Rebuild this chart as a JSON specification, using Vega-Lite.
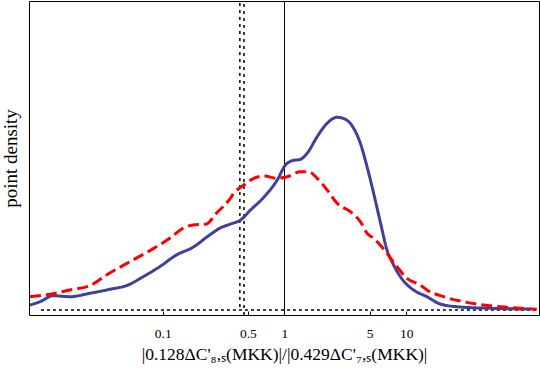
{
  "$schema": "https://vega.github.io/schema/vega-lite/v6.json",
  "autosize": "none",
  "padding": {"left": 29, "right": 1, "top": 1, "bottom": 54},
  "width": 510,
  "height": 314,
  "background": "white",
  "config": {
    "view": {"stroke": "black", "strokeWidth": 1},
    "font": "Liberation Serif"
  },
  "datasets": {
    "curves": [
      {"series": "blue", "x": 0.00813, "y": 5},
      {"series": "blue", "x": 0.00982, "y": 8.3},
      {"series": "blue", "x": 0.01262, "y": 14.3},
      {"series": "blue", "x": 0.01729, "y": 13.3},
      {"series": "blue", "x": 0.02522, "y": 16.7},
      {"series": "blue", "x": 0.0368, "y": 20.7},
      {"series": "blue", "x": 0.052, "y": 25},
      {"series": "blue", "x": 0.069, "y": 33.3},
      {"series": "blue", "x": 0.0945, "y": 43.3},
      {"series": "blue", "x": 0.1295, "y": 55},
      {"series": "blue", "x": 0.1772, "y": 62.7},
      {"series": "blue", "x": 0.2427, "y": 75},
      {"series": "blue", "x": 0.2932, "y": 81.7},
      {"series": "blue", "x": 0.3542, "y": 85.7},
      {"series": "blue", "x": 0.4357, "y": 90},
      {"series": "blue", "x": 0.5262, "y": 100},
      {"series": "blue", "x": 0.6765, "y": 112.7},
      {"series": "blue", "x": 0.8712, "y": 130},
      {"series": "blue", "x": 1.019, "y": 145},
      {"series": "blue", "x": 1.156, "y": 149.3},
      {"series": "blue", "x": 1.352, "y": 150.7},
      {"series": "blue", "x": 1.535, "y": 156.7},
      {"series": "blue", "x": 1.854, "y": 173.3},
      {"series": "blue", "x": 2.239, "y": 186.7},
      {"series": "blue", "x": 2.704, "y": 192.7},
      {"series": "blue", "x": 3.162, "y": 190.7},
      {"series": "blue", "x": 3.698, "y": 181.7},
      {"series": "blue", "x": 4.198, "y": 166.7},
      {"series": "blue", "x": 4.763, "y": 143.3},
      {"series": "blue", "x": 5.397, "y": 116.7},
      {"series": "blue", "x": 6.121, "y": 88},
      {"series": "blue", "x": 6.946, "y": 60},
      {"series": "blue", "x": 7.87, "y": 45},
      {"series": "blue", "x": 9.5, "y": 29},
      {"series": "blue", "x": 11.48, "y": 20},
      {"series": "blue", "x": 14.78, "y": 13.3},
      {"series": "blue", "x": 19.0, "y": 6},
      {"series": "blue", "x": 26.0, "y": 3.3},
      {"series": "blue", "x": 48.8, "y": 1.7},
      {"series": "blue", "x": 103.8, "y": 1},
      {"series": "red", "x": 0.00813, "y": 13.3},
      {"series": "red", "x": 0.01186, "y": 15.7},
      {"series": "red", "x": 0.01729, "y": 20},
      {"series": "red", "x": 0.02522, "y": 24.3},
      {"series": "red", "x": 0.03455, "y": 35},
      {"series": "red", "x": 0.0537, "y": 48.3},
      {"series": "red", "x": 0.0782, "y": 59.3},
      {"series": "red", "x": 0.1141, "y": 71.7},
      {"series": "red", "x": 0.1466, "y": 81.7},
      {"series": "red", "x": 0.1772, "y": 85},
      {"series": "red", "x": 0.2282, "y": 86},
      {"series": "red", "x": 0.2756, "y": 96.7},
      {"series": "red", "x": 0.3542, "y": 110.7},
      {"series": "red", "x": 0.3841, "y": 116.7},
      {"series": "red", "x": 0.4638, "y": 125},
      {"series": "red", "x": 0.5602, "y": 131.7},
      {"series": "red", "x": 0.6765, "y": 134},
      {"series": "red", "x": 0.8712, "y": 131.7},
      {"series": "red", "x": 1.052, "y": 133.3},
      {"series": "red", "x": 1.352, "y": 138.3},
      {"series": "red", "x": 1.582, "y": 138.3},
      {"series": "red", "x": 1.854, "y": 131.7},
      {"series": "red", "x": 2.239, "y": 120},
      {"series": "red", "x": 2.704, "y": 106.7},
      {"series": "red", "x": 3.475, "y": 98.3},
      {"series": "red", "x": 4.198, "y": 88.3},
      {"series": "red", "x": 4.763, "y": 76.7},
      {"series": "red", "x": 5.397, "y": 71.7},
      {"series": "red", "x": 6.946, "y": 56.7},
      {"series": "red", "x": 8.39, "y": 43.3},
      {"series": "red", "x": 10.13, "y": 31.7},
      {"series": "red", "x": 13.02, "y": 25},
      {"series": "red", "x": 14.78, "y": 20},
      {"series": "red", "x": 20.22, "y": 13.3},
      {"series": "red", "x": 29.5, "y": 8.3},
      {"series": "red", "x": 43.0, "y": 5},
      {"series": "red", "x": 66.8, "y": 2.7},
      {"series": "red", "x": 118, "y": 0.7}
    ]
  },
  "layer": [
    {
      "data": {"values": [{"x": 0.01, "x2": 123, "y": 0}]},
      "mark": {"type": "rule", "color": "black", "strokeWidth": 1.3, "strokeDash": [3, 3]},
      "encoding": {
        "x": {"field": "x", "type": "quantitative", "scale": {"type": "log", "domain": [0.00798, 123], "nice": false},
          "axis": {"values": [0.1, 0.5, 1, 5, 10], "grid": false, "domain": false, "tickSize": -4, "tickColor": "black", "labelPadding": 15, "labelColor": "black", "labelFontSize": 13.5, "labelFont": "Liberation Serif", "labelFlush": false, "labelExpr": "datum.value",
            "title": "|0.128ΔC'₈,ₛ(MKK)|/|0.429ΔC'₇,ₛ(MKK)|", "titleFont": "Liberation Serif", "titleFontSize": 17.5, "titleFontWeight": "normal", "titleColor": "black", "titlePadding": 6}},
        "x2": {"field": "x2"},
        "y": {"field": "y", "type": "quantitative", "scale": {"domain": [-5, 309], "nice": false, "zero": false},
          "axis": {"ticks": false, "labels": false, "domain": false, "grid": false, "title": "point density", "titleFont": "Liberation Serif", "titleFontSize": 19, "titleFontWeight": "normal", "titleColor": "black", "titlePadding": 9}}
      }
    },
    {
      "data": {"values": [{"x": 0.43, "y": 3, "y2": 309}, {"x": 0.465, "y": -5, "y2": 309}]},
      "mark": {"type": "rule", "color": "black", "strokeWidth": 1.5, "strokeDash": [3, 4]},
      "encoding": {
        "x": {"field": "x", "type": "quantitative"},
        "y": {"field": "y", "type": "quantitative"},
        "y2": {"field": "y2"}
      }
    },
    {
      "data": {"values": [{"x": 1, "y": -5, "y2": 309}]},
      "mark": {"type": "rule", "color": "black", "strokeWidth": 1},
      "encoding": {
        "x": {"field": "x", "type": "quantitative"},
        "y": {"field": "y", "type": "quantitative"},
        "y2": {"field": "y2"}
      }
    },
    {
      "data": {"name": "curves"},
      "mark": {"type": "line", "strokeWidth": 3, "interpolate": "monotone"},
      "encoding": {
        "x": {"field": "x", "type": "quantitative"},
        "y": {"field": "y", "type": "quantitative"},
        "color": {"field": "series", "type": "nominal", "scale": {"domain": ["blue", "red"], "range": ["#3f3f9c", "#ff0000"]}, "legend": null},
        "strokeDash": {"field": "series", "type": "nominal", "scale": {"domain": ["blue", "red"], "range": [[1, 0], [11, 5]]}, "legend": null}
      }
    }
  ]
}
